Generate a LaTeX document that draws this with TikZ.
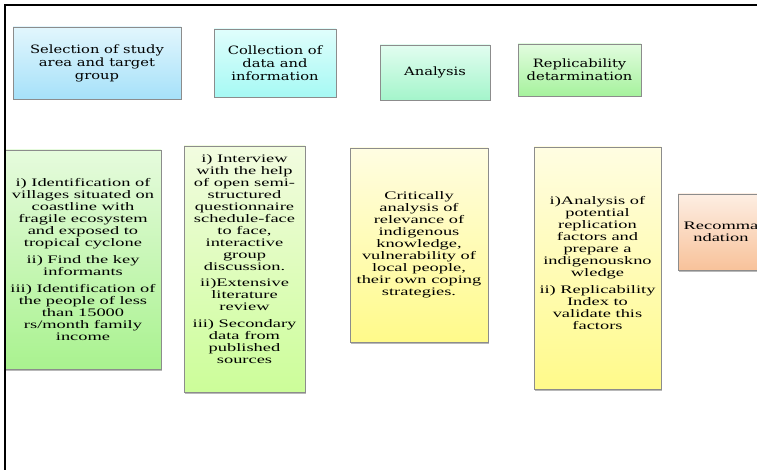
\documentclass[tikz,border=0pt]{standalone}
\usepackage{fontspec}
\usetikzlibrary{positioning,shadows}
\newfontfamily\headfont[FakeStretch=1.28]{DejaVu Serif}
\newfontfamily\bodyfont[FakeStretch=1.60]{Liberation Serif}
\definecolor{selecttop}{HTML}{E2F6FD}\definecolor{selectbot}{HTML}{A6E1F9}
\definecolor{collecttop}{HTML}{E0FEFC}\definecolor{collectbot}{HTML}{A6F9F4}
\definecolor{analysetop}{HTML}{E2FDF0}\definecolor{analysebot}{HTML}{A4F5CB}
\definecolor{replictop}{HTML}{E2FCDF}\definecolor{replicbot}{HTML}{A6F29D}
\definecolor{seltop}{HTML}{E6FBDD}\definecolor{selbot}{HTML}{A9F28F}
\definecolor{coltop}{HTML}{F2FCE0}\definecolor{colbot}{HTML}{CCFD99}
\definecolor{yeltop}{HTML}{FFFDE2}\definecolor{yelbot}{HTML}{FFFA8A}
\definecolor{rectop}{HTML}{FDEEE3}\definecolor{recbot}{HTML}{F8C29A}

\begin{document}
\begin{tikzpicture}[x=1pt,y=1pt,
   stagebox/.style={draw=black!45, line width=0.6pt, inner sep=2pt, align=center,
                    drop shadow={shadow xshift=1pt, shadow yshift=-1.5pt, fill=black!35, opacity=0.8}},
   headtext/.style={font=\headfont\fontsize{11.5}{13}\selectfont, align=center},
   bodytext/.style={font=\bodyfont\fontsize{11.5}{12}\selectfont, align=center, inner sep=0pt}]
   \useasboundingbox (0,0) rectangle (757,-470);
   \clip (0,0) rectangle (757,-470);

   \node[stagebox, headtext, top color=selecttop, bottom color=selectbot,
         minimum width=168, minimum height=72] (select) at (97,-63)
         {Selection of study\\area and target\\group};
   \node[stagebox, headtext, top color=collecttop, bottom color=collectbot,
         minimum width=122, minimum height=68] (collect) at (275,-63)
         {Collection of\\data and\\information};
   \node[stagebox, headtext, top color=analysetop, bottom color=analysebot,
         minimum width=110, minimum height=55] (analyse) at (435,-72.5) {Analysis};
   \node[stagebox, headtext, top color=replictop, bottom color=replicbot,
         minimum width=123, minimum height=52] (replic) at (579.5,-70)
         {Replicability\\detarmination};

   \node[stagebox, top color=seltop, bottom color=selbot,
         minimum width=156, minimum height=219] (selbox) at (83,-259.5) {};
   \node[bodytext] (seltext) at (selbox.center)
         {i) Identification of\\villages situated on\\coastline with\\fragile ecosystem\\and exposed to\\tropical cyclone\\[5pt]
          ii) Find the key\\informants\\[5pt]
          iii) Identification of\\the people of less\\than 15000\\rs/month family\\income};

   \node[stagebox, top color=coltop, bottom color=colbot,
         minimum width=121, minimum height=246] (colbox) at (244.5,-269) {};
   \node[bodytext, yshift=10] (coltext) at (colbox.center)
         {i) Interview\\with the help\\of open semi-\\structured\\questionnaire\\schedule-face\\to face,\\interactive\\group\\discussion.\\[4pt]
          ii)Extensive\\literature\\review\\[5pt]
          iii) Secondary\\data from\\published\\sources};

   \node[stagebox, top color=yeltop, bottom color=yelbot,
         minimum width=138, minimum height=194] (anabox) at (419,-245) {};
   \node[bodytext] (anatext) at (anabox.center)
         {Critically\\analysis of\\relevance of\\indigenous\\knowledge,\\vulnerability of\\local people,\\their own coping\\strategies.};

   \node[stagebox, top color=yeltop, bottom color=yelbot,
         minimum width=127, minimum height=242] (repbox) at (597.5,-268) {};
   \node[bodytext, yshift=5] (reptext) at (repbox.center)
         {i)Analysis of\\potential\\replication\\factors and\\prepare a\\indigenouskno\\wledge\\[5pt]
          ii) Replicability\\Index to\\validate this\\factors};

   \node[stagebox, top color=rectop, bottom color=recbot,
         minimum width=86, minimum height=76] (recbox) at (721,-232) {};
   \node[bodytext] (rectext) at (recbox.center) {Recomma\\ndation};

   \draw[line width=1.4pt] (5,-470) -- (5,-5) -- (757,-5);
\end{tikzpicture}
\end{document}
